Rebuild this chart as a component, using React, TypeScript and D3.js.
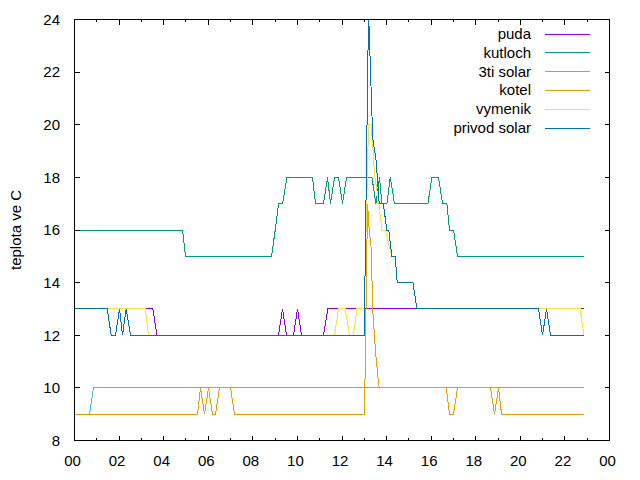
import React from "react";
import * as d3 from "d3";

const seriesNames = ["puda", "kutloch", "3ti solar", "kotel", "vymenik", "privod solar"];
const seriesColors = ["#9400d3", "#009e73", "#56b4e9", "#e69f00", "#f0e442", "#0072b2"];

const pudaData: [number, number][] = [[0,13],[3.517,13],[3.697,12],[9.152,12],[9.331,13],[9.511,12],[9.825,12],[10.004,13],[10.184,12],[11.171,12],[11.368,13],[22.853,13]];
const kutlochData: [number, number][] = [[0,16],[4.845,16],[4.98,15],[8.838,15],[9.004,16],[9.152,17],[9.331,17],[9.529,18],[10.677,18],[10.812,17],[11.171,17],[11.35,18],[11.485,17],[11.664,18],[11.844,18],[12.023,17],[12.203,18],[13.342,18],[13.522,17],[13.683,18],[13.791,17],[14.015,17],[14.163,18],[14.356,17],[15.855,17],[16.034,18],[16.33,18],[16.51,17],[16.707,17],[16.824,16],[17.003,16],[17.183,15],[22.835,15]];
const solar3Data: [number, number][] = [[0,9],[0.673,9],[0.852,10],[22.853,10]];
const kotelData: [number, number][] = [[0,9],[5.518,9],[5.653,10],[5.832,9],[6.012,10],[6.191,9],[6.326,9],[6.505,10],[6.999,10],[7.178,9],[13.01,9],[13.145,17],[13.221,16],[13.311,15.3],[13.378,13],[13.445,12.1],[13.513,11.3],[13.58,10.7],[13.648,10.1],[13.715,10],[16.676,10],[16.824,9],[17.003,9],[17.183,10],[18.663,10],[18.843,9],[19.022,10],[19.157,9],[22.853,9]];
const vymenikData: [number, number][] = [[0,13],[3.172,13],[3.32,12],[11.664,12],[11.844,13],[12.145,13],[12.337,12],[12.517,12],[12.67,13],[12.997,13],[13.19,20],[13.311,20],[13.387,19.1],[13.459,18.1],[13.638,17.1],[13.791,16],[13.939,16],[14.239,15],[14.387,15],[14.477,14],[15.182,14],[15.361,13],[22.687,13],[22.853,12]];
const privodData: [number, number][] = [[0,13],[1.467,13],[1.646,12],[1.839,12],[2.019,13],[2.153,12],[2.319,13],[2.512,12],[12.997,12],[13.19,24.3],[13.378,19.5],[13.535,18.6],[13.67,17],[13.849,17],[14.015,16],[14.096,16],[14.239,15],[14.387,15],[14.477,14],[15.182,14],[15.361,13],[20.817,13],[20.996,12],[21.176,13],[21.355,12],[22.853,12]];

const xTickHours = [0, 2, 4, 6, 8, 10, 12, 14, 16, 18, 20, 22, 24];
const xTickLabels = ["00", "02", "04", "06", "08", "10", "12", "14", "16", "18", "20", "22", "00"];
const xMinorHours = [1, 3, 5, 7, 9, 11, 13, 15, 17, 19, 21, 23];
const yTicks = [8, 10, 12, 14, 16, 18, 20, 22, 24];
const yLabel = "teplota ve C";

const W = 640, H = 480;
const L = 74.5, R = 609.5, T = 19.5, B = 440.5;
const FONT = "'Liberation Sans', Arial, sans-serif";

export default function App() {
  const x = d3.scaleLinear().domain([0, 24]).range([L, R]);
  const y = d3.scaleLinear().domain([8, 24]).range([B, T]);
  const line = d3.line<[number, number]>().x(d => x(d[0])).y(d => y(d[1]));
  const allData = [pudaData, kutlochData, solar3Data, kotelData, vymenikData, privodData];

  return (
    <svg width={W} height={H} style={{ position: "absolute", left: 0, top: 0, background: "#fff" }}
      fontFamily={FONT}>
      <defs>
        <clipPath id="plotclip">
          <rect x={L} y={T} width={R - L} height={B - T} />
        </clipPath>
      </defs>
      <rect x={0} y={0} width={W} height={H} fill="#fff" />
      <g clipPath="url(#plotclip)">
        {allData.map((d, i) => (
          <path key={i} d={line(d) || ""} fill="none" stroke={seriesColors[i]} strokeWidth={1}
            shapeRendering="crispEdges" />
        ))}
      </g>
      <g stroke="#000" strokeWidth={1} shapeRendering="crispEdges">
        {yTicks.map(v => (
          <g key={"y" + v}>
            <line x1={L} x2={L + 5} y1={y(v)} y2={y(v)} />
            <line x1={R} x2={R - 5} y1={y(v)} y2={y(v)} />
          </g>
        ))}
        {xTickHours.map(h => (
          <g key={"x" + h}>
            <line x1={x(h)} x2={x(h)} y1={B} y2={B - 5} />
            <line x1={x(h)} x2={x(h)} y1={T} y2={T + 5} />
          </g>
        ))}
        {xMinorHours.map(h => (
          <g key={"m" + h}>
            <line x1={x(h)} x2={x(h)} y1={B} y2={B - 2.5} />
            <line x1={x(h)} x2={x(h)} y1={T} y2={T + 2.5} />
          </g>
        ))}
        <rect x={L} y={T} width={R - L} height={B - T} fill="none" />
      </g>
      <g fontSize={15} fill="#000">
        {yTicks.map(v => (
          <text key={"yl" + v} x={60} y={y(v)} dy="0.35em" textAnchor="end">{v}</text>
        ))}
        {xTickHours.map((h, i) => (
          <text key={"xl" + h} x={x(h) - 2} y={466} textAnchor="middle">{xTickLabels[i]}</text>
        ))}
        <text transform={`translate(21, ${(T + B) / 2}) rotate(-90)`} textAnchor="middle">{yLabel}</text>
      </g>
      <g fontSize={15}>
        {seriesNames.map((n, i) => {
          const ly = 33.5 + i * 18.9;
          return (
            <g key={n}>
              <text x={531} y={ly} dy="0.35em" textAnchor="end" fill="#000">{n}</text>
              <line x1={545} x2={590} y1={Math.round(ly) + 0.5} y2={Math.round(ly) + 0.5}
                stroke={seriesColors[i]} strokeWidth={1} shapeRendering="crispEdges" />
            </g>
          );
        })}
      </g>
    </svg>
  );
}
